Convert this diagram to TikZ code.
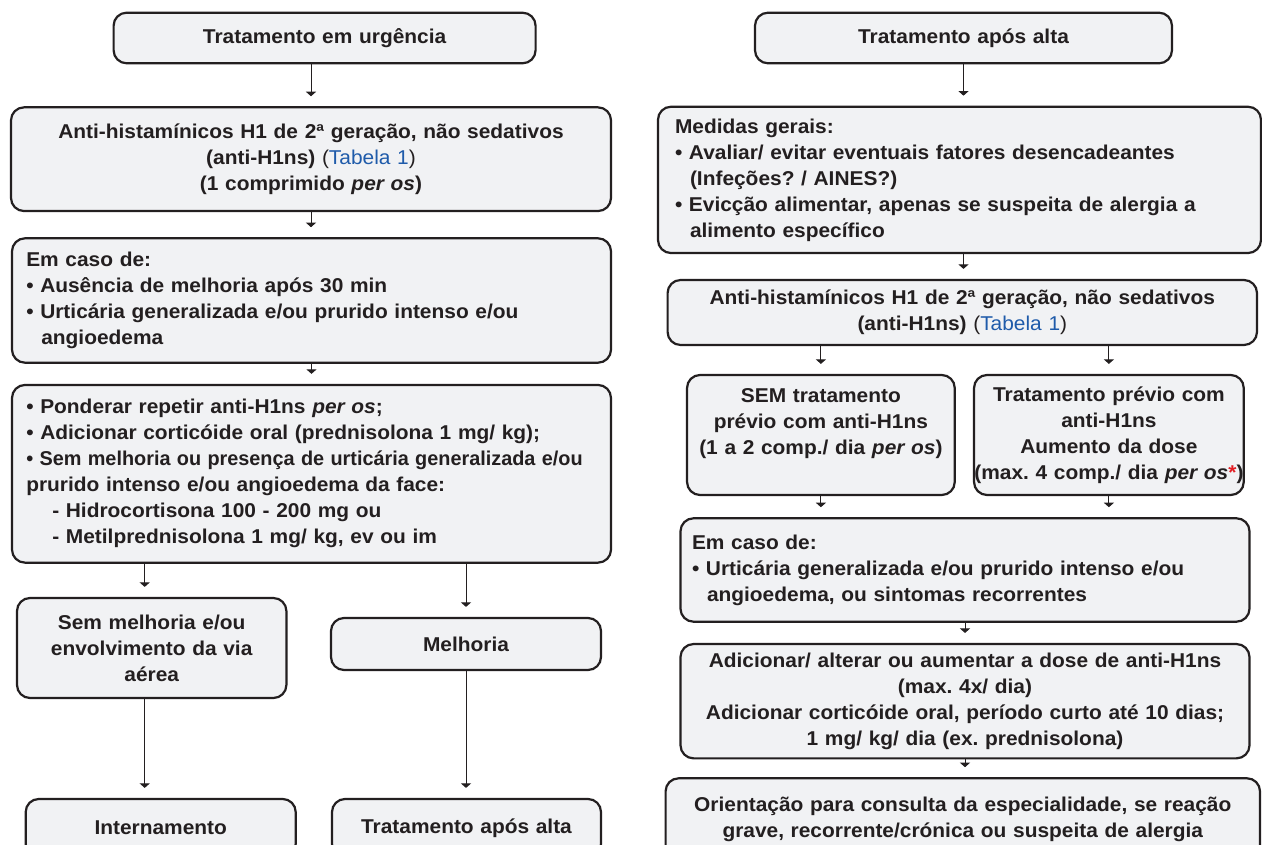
\documentclass[tikz,border=0pt]{standalone}
\usepackage{graphicx}
\usepackage{fontspec}
\setmainfont{Liberation Sans}[FakeStretch=1.045]
\usetikzlibrary{arrows.meta}

\definecolor{boxgray}{HTML}{F1F2F4}
\definecolor{inkdark}{HTML}{231F20}
\definecolor{tabblue}{HTML}{1F5BAA}
\definecolor{starred}{HTML}{E31E24}

\newcommand{\contind}{\hspace*{15pt}}
\newcommand{\tabref}{{\mdseries(\textcolor{tabblue}{Tabela 1})}}
\frenchspacing

\begin{document}
\begin{tikzpicture}[x=1pt,y=-1pt,
    stepbox/.style={draw=inkdark, line width=2.2pt, fill=boxgray, rounded corners=13pt,
        text=inkdark, inner sep=0pt, align=center,
        font=\fontsize{20}{26}\selectfont\bfseries\frenchspacing},
    listbox/.style={stepbox, align=left},
    arr/.style={draw=inkdark, line width=1pt, shorten >=10pt,
        -{Triangle[length=4.5pt,width=10pt]}}]
    \useasboundingbox (0,0) rectangle (1262,845);
    \clip (0,0) rectangle (1262,845);
    \fill[white] (0,0) rectangle (1262,845);

    %left blocks
    \node[stepbox, minimum width=422, minimum height=50.6, text width=400] (L1) at (324.6,38) {Tratamento em urgência};
    \node[stepbox, minimum width=600, minimum height=103.7, text width=580] (L2) at (311,159.2)
        {Anti-histamínicos H1 de 2ª geração, não sedativos\\(anti-H1ns) \tabref\\(1 comprimido \textit{per os})};
    \node[listbox, minimum width=599, minimum height=124.4, text width=570.4] (L3) at (311.5,300.5)
        {Em caso de:\\
         • Ausência de melhoria após 30 min\\
         \mbox{• Urticária generalizada e/ou prurido intenso e/ou}\\
         \contind angioedema};
    \node[listbox, minimum width=599, minimum height=177.7, text width=570.4] (L4) at (311.5,473.8)
        {• Ponderar repetir anti-H1ns \textit{per os};\\
         \mbox{• Adicionar corticóide oral (prednisolona 1 mg/ kg);}\\
         \scalebox{0.95}[1]{• Sem melhoria ou presença de urticária generalizada e/ou}\\
         \mbox{prurido intenso e/ou angioedema da face:}\\
         \hspace*{26pt}- Hidrocortisona 100 - 200 mg ou\\
         \hspace*{26pt}- Metilprednisolona 1 mg/ kg, ev ou im};
    \node[stepbox, minimum width=269.4, minimum height=100, text width=255] (L5) at (151.7,648)
        {Sem melhoria e/ou\\envolvimento da via\\aérea};
    \node[stepbox, minimum width=270, minimum height=52, text width=255] (L6) at (466,644) {Melhoria};
    \node[stepbox, minimum width=270, minimum height=58, text width=255] (L7) at (160.7,828) {Internamento};
    \node[stepbox, minimum width=269, minimum height=58, text width=255] (L8) at (466.5,828) {Tratamento após alta};

    %right blocks
    \node[stepbox, minimum width=417, minimum height=50.6, text width=400] (R1) at (963.5,38) {Tratamento após alta};
    \node[listbox, minimum width=603, minimum height=146.3, text width=569] (R2) at (959.5,179.9)
        {Medidas gerais:\\
         \mbox{• Avaliar/ evitar eventuais fatores desencadeantes}\\
         \contind(Infeções? / AINES?)\\
         \mbox{• Evicção alimentar, apenas se suspeita de alergia a}\\
         \contind alimento específico};
    \node[stepbox, minimum width=589.4, minimum height=65, text width=580] (R3) at (962.3,312.5)
        {Anti-histamínicos H1 de 2ª geração, não sedativos\\(anti-H1ns) \tabref};
    \node[stepbox, minimum width=267.7, minimum height=120, text width=250] (R4) at (820.9,435)
        {SEM tratamento\\prévio com anti-H1ns\\\makebox[0pt]{(1 a 2 comp./ dia \textit{per os})}\\\mbox{}};
    \node[stepbox, minimum width=269.7, minimum height=120, text width=250] (R5) at (1108.9,435)
        {Tratamento prévio com\\anti-H1ns\\Aumento da dose\\\makebox[0pt]{(max. 4 comp./ dia \textit{per os}\textcolor{starred}{*})}};
    \node[listbox, minimum width=569, minimum height=103.4, text width=546] (R6) at (965,570)
        {Em caso de:\\
         \mbox{• Urticária generalizada e/ou prurido intenso e/ou}\\
         \contind angioedema, ou sintomas recorrentes};
    \node[stepbox, minimum width=569, minimum height=114.3, text width=560] (R7) at (965,701.2)
        {Adicionar/ alterar ou aumentar a dose de anti-H1ns\\(max. 4x/ dia)\\
         Adicionar corticóide oral, período curto até 10 dias;\\1 mg/ kg/ dia (ex. prednisolona)};
    \node[stepbox, minimum width=594.4, minimum height=81.4, text width=585] (R8) at (962.8,819)
        {Orientação para consulta da especialidade, se reação\\grave, recorrente/crónica ou suspeita de alergia};

    %left arrows
    \draw[arr] (L1.south -| L2.north) -- (L2.north);
    \draw[arr] (L2.south) -- (L2.south |- L3.north);
    \draw[arr] (L3.south) -- (L3.south |- L4.north);
    \draw[arr] ([xshift=-7pt]L5.north |- L4.south) -- ([xshift=-7pt]L5.north);
    \draw[arr] (L6.north |- L4.south) -- (L6.north);
    \draw[arr] ([xshift=-7pt]L5.south) -- ([xshift=-7pt]L5.south |- L7.north);
    \draw[arr] (L6.south) -- (L6.south |- L8.north);

    %right arrows
    \draw[arr] (R1.south) -- (R1.south |- R2.north);
    \draw[arr] (R2.south -| R1.south) -- (R3.north -| R1.south);
    \draw[arr] (R4.north |- R3.south) -- (R4.north);
    \draw[arr] (R5.north |- R3.south) -- (R5.north);
    \draw[arr] (R4.south) -- (R4.south |- R6.north);
    \draw[arr] (R5.south) -- (R5.south |- R6.north);
    \draw[arr] (R6.south) -- (R6.south |- R7.north);
    \draw[arr] (R7.south) -- (R7.south |- R8.north);
\end{tikzpicture}
\end{document}
